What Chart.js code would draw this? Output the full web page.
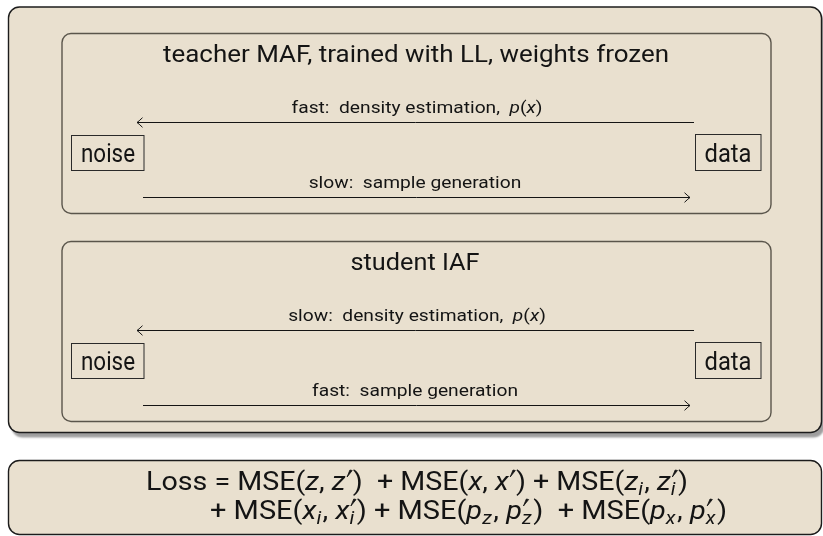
<!DOCTYPE html>
<html><head><meta charset="utf-8">
<script src="https://cdn.jsdelivr.net/npm/chart.js@4.4.1/dist/chart.umd.min.js"></script>
<style>html,body{margin:0;padding:0;background:#fff}#wrap{width:823px;height:536px;position:relative}</style>
</head><body><div id="wrap"><canvas id="c"></canvas></div>
<script>
// ---------- content (top-level arrays) ----------
const modelTitles = ['teacher MAF, trained with LL, weights frozen', 'student IAF'];
const nodeLabels = ['noise', 'data'];
const densitySpeed = ['fast:', 'slow:'];
const sampleSpeed = ['slow:', 'fast:'];
const densityText = ['density estimation,', 'p', '(', 'x', ')'];
const sampleText = ['sample generation'];
// arrow end points, in diagram units (x across, y down)
const teacherDensityArrow = [{x: 694, y: 122.5}, {x: 137, y: 122.5}];
const teacherSampleArrow  = [{x: 143, y: 197.5}, {x: 690, y: 197.5}];
const studentDensityArrow = [{x: 694, y: 330.5}, {x: 137, y: 330.5}];
const studentSampleArrow  = [{x: 143, y: 405.5}, {x: 690, y: 405.5}];
// loss terms: [first argument, second argument, subscript]
const lossTermsLine1 = [['z', 'z', ''], ['x', 'x', ''], ['z', 'z', 'i']];
const lossTermsLine2 = [['x', 'x', 'i'], ['p', 'p', 'z'], ['p', 'p', 'x']];

// ---------- drawing helpers ----------
const FAM = 'Roboto, "DejaVu Sans", sans-serif';
const INK = '#141414';
const FILL = '#e9e0cf';

function fnt(size, it) { return (it ? 'italic ' : '') + size + 'px ' + FAM; }

function segWidth(ctx, s, size) {
  if (s.t !== undefined) { ctx.font = fnt(size, s.it); return ctx.measureText(s.t).width; }
  let w = 0;
  const ss = size * 0.7;
  if (s.prime) w = Math.max(w, size * 0.2);
  if (s.sub) { ctx.font = fnt(ss, true); w = Math.max(w, ctx.measureText(s.sub).width); }
  return w + size * 0.05;
}
function richWidth(ctx, segs, size) { return segs.reduce((a, s) => a + segWidth(ctx, s, size), 0); }

function drawRich(ctx, segs, x, y, size, opt) {
  const nat = richWidth(ctx, segs, size);
  let sx = opt.scale || 1;
  if (opt.width) sx = opt.width / nat;
  const w = nat * sx;
  let x0 = opt.align === 'left' ? x : x - w / 2;
  ctx.save();
  ctx.translate(x0, y);
  ctx.scale(sx, 1);
  ctx.fillStyle = INK;
  ctx.textBaseline = 'alphabetic';
  ctx.textAlign = 'left';
  let cx = 0;
  const ss = size * 0.7;
  for (const s of segs) {
    if (s.t !== undefined) {
      ctx.font = fnt(size, s.it);
      ctx.fillText(s.t, cx, 0);
    } else {
      if (s.prime) {
        ctx.beginPath();
        ctx.moveTo(cx + size * 0.05, -size * 0.5);
        ctx.lineTo(cx + size * 0.15, -size * 0.78);
        ctx.lineTo(cx + size * 0.23, -size * 0.76);
        ctx.closePath();
        ctx.fill();
        ctx.lineWidth = size * 0.03; ctx.strokeStyle = INK; ctx.lineJoin = 'round'; ctx.stroke();
      }
      if (s.sub) { ctx.font = fnt(ss, true); ctx.fillText(s.sub, cx, size * 0.22); }
    }
    cx += segWidth(ctx, s, size);
  }
  ctx.restore();
  return sx;
}

function rrect(ctx, x1, y1, x2, y2, r) {
  ctx.beginPath();
  ctx.moveTo(x1 + r, y1);
  ctx.lineTo(x2 - r, y1); ctx.arcTo(x2, y1, x2, y1 + r, r);
  ctx.lineTo(x2, y2 - r); ctx.arcTo(x2, y2, x2 - r, y2, r);
  ctx.lineTo(x1 + r, y2); ctx.arcTo(x1, y2, x1, y2 - r, r);
  ctx.lineTo(x1, y1 + r); ctx.arcTo(x1, y1, x1 + r, y1, r);
  ctx.closePath();
}

function lossSegs(terms, lead) {
  const first = lead.startsWith('Loss');
  const segs = [{t: lead}];
  terms.forEach((tm, k) => {
    if (k > 0) segs.push({t: first ? (k === 1 ? ')  + ' : ') + ') : (k === 2 ? ')  + ' : ') + ')});
    segs.push({t: 'MSE('});
    segs.push({t: tm[0], it: true});
    if (tm[2]) segs.push({sub: tm[2]});
    segs.push({t: ', '});
    segs.push({t: tm[1], it: true});
    segs.push({prime: true, sub: tm[2] || ''});
  });
  segs.push({t: ')'});
  return segs;
}

const diagramPlugin = {
  id: 'diagram',
  beforeDatasetsDraw(chart) {
    const ctx = chart.ctx, X = v => chart.scales.x.getPixelForValue(v), Y = v => chart.scales.y.getPixelForValue(v);
    ctx.save();
    ctx.save();
    ctx.shadowColor = 'rgba(0,0,0,0.38)';
    ctx.shadowOffsetX = 3; ctx.shadowOffsetY = 5; ctx.shadowBlur = 2;
    rrect(ctx, X(8.5), Y(7), X(821.5), Y(432.5), 11);
    ctx.fillStyle = FILL; ctx.fill();
    ctx.restore();
    rrect(ctx, X(8.5), Y(7), X(821.5), Y(432.5), 11);
    ctx.lineWidth = 1.4; ctx.strokeStyle = '#1c1c1c'; ctx.stroke();
    [0, 208].forEach(dy => {
      rrect(ctx, X(62), Y(33.5 + dy), X(771), Y(213.5 + dy), 9);
      ctx.fillStyle = FILL; ctx.fill();
      ctx.lineWidth = 1.4; ctx.strokeStyle = '#5a554b'; ctx.stroke();
      ctx.lineWidth = 1; ctx.strokeStyle = '#2a2a2a';
      ctx.strokeRect(X(71.5), Y(135.5 + dy), X(144) - X(71.5), Y(170.5 + dy) - Y(135.5 + dy));
      ctx.strokeRect(X(695.5), Y(134.5 + dy), X(761) - X(695.5), Y(170.5 + dy) - Y(134.5 + dy));
    });
    rrect(ctx, X(8.5), Y(460.5), X(821.5), Y(534.5), 11);
    ctx.fillStyle = FILL; ctx.fill();
    ctx.lineWidth = 1.4; ctx.strokeStyle = '#1c1c1c'; ctx.stroke();
    ctx.restore();
  },
  afterDatasetsDraw(chart) {
    const ctx = chart.ctx, X = v => chart.scales.x.getPixelForValue(v), Y = v => chart.scales.y.getPixelForValue(v);
    ctx.save();
    chart.data.datasets.forEach((ds, i) => {
      const pts = chart.getDatasetMeta(i).data;
      const a = pts[pts.length - 2], b = pts[pts.length - 1];
      const d = Math.sign(b.x - a.x);
      ctx.beginPath();
      ctx.moveTo(b.x - d * 5.5, b.y - 4.8);
      ctx.quadraticCurveTo(b.x - d * 1.5, b.y - 1, b.x, b.y);
      ctx.quadraticCurveTo(b.x - d * 1.5, b.y + 1, b.x - d * 5.5, b.y + 4.8);
      ctx.lineWidth = 1; ctx.strokeStyle = INK; ctx.stroke();
    });
    drawRich(ctx, [{t: modelTitles[0]}], X(416), Y(62), 24, {width: 506});
    drawRich(ctx, [{t: modelTitles[1]}], X(415), Y(270), 24, {width: 129});
    [0, 208].forEach(dy => {
      drawRich(ctx, [{t: nodeLabels[0]}], X(108), Y(162 + dy), 25, {width: 54});
      drawRich(ctx, [{t: nodeLabels[1]}], X(728), Y(162 + dy), 25, {width: 47});
    });
    const dens = sp => [{t: sp + '  ' + densityText[0] + '  '}, {t: densityText[1], it: true}, {t: densityText[2]}, {t: densityText[3], it: true}, {t: densityText[4]}];
    const samp = sp => [{t: sp + '  ' + sampleText[0]}];
    const sc = drawRich(ctx, dens(densitySpeed[0]), X(417), Y(112.7), 16, {width: 251});
    drawRich(ctx, samp(sampleSpeed[0]), X(415), Y(188), 16, {scale: sc});
    drawRich(ctx, dens(densitySpeed[1]), X(417), Y(320.7), 16, {scale: sc});
    drawRich(ctx, samp(sampleSpeed[1]), X(415), Y(396), 16, {scale: sc});
    drawRich(ctx, lossSegs(lossTermsLine1, 'Loss = '), X(146), Y(489.5), 25, {width: 542, align: 'left'});
    drawRich(ctx, lossSegs(lossTermsLine2, '+ '), X(210), Y(518.5), 25, {width: 517, align: 'left'});
    ctx.restore();
  }
};

const arrowStyle = {showLine: true, borderColor: INK, borderWidth: 1, pointRadius: 0, fill: false, tension: 0};
new Chart(document.getElementById('c'), {
  type: 'scatter',
  data: {
    datasets: [
      Object.assign({label: 'teacher density', data: teacherDensityArrow}, arrowStyle),
      Object.assign({label: 'teacher sample', data: teacherSampleArrow}, arrowStyle),
      Object.assign({label: 'student density', data: studentDensityArrow}, arrowStyle),
      Object.assign({label: 'student sample', data: studentSampleArrow}, arrowStyle)
    ]
  },
  options: {
    responsive: true, maintainAspectRatio: false, animation: false,
    layout: {padding: 0},
    plugins: {legend: {display: false}, tooltip: {enabled: false}},
    scales: {
      x: {type: 'linear', min: 0, max: 823, display: false},
      y: {type: 'linear', min: 0, max: 536, reverse: true, display: false}
    }
  },
  plugins: [{id: 'bg', beforeDraw(c) { c.ctx.save(); c.ctx.fillStyle = '#fff'; c.ctx.fillRect(0, 0, c.width, c.height); c.ctx.restore(); }}, diagramPlugin]
});
</script></body></html>
